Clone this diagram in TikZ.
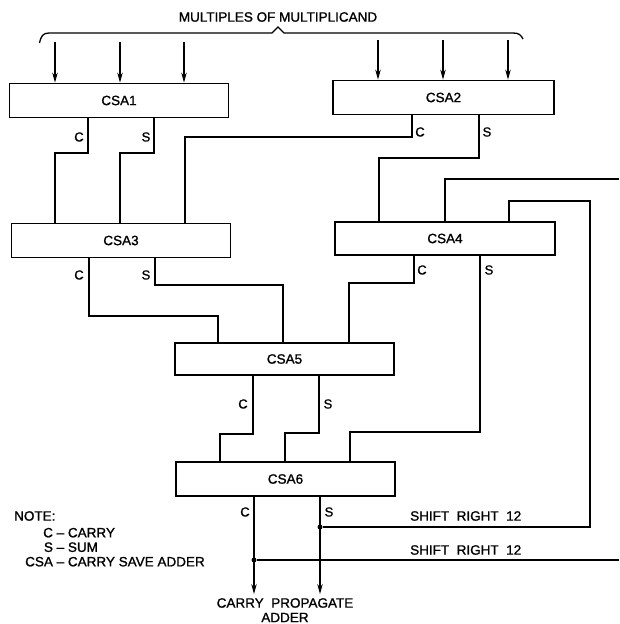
\documentclass[tikz,border=0pt]{standalone}
\usepackage{fontspec}
\setmainfont{Liberation Sans}[FakeBold=1.2]
\usetikzlibrary{arrows.meta}
\begin{document}
\begin{tikzpicture}[x=1pt,y=-1pt,
  csabox/.style={draw,line width=1.8pt,minimum width=219pt,minimum height=34pt,inner sep=0pt,font=\fontsize{13.5}{15}\selectfont},
  wire/.style={line width=1.2pt},
  inarrow/.style={line width=1.2pt,-{Stealth[length=10pt,width=5.5pt]}},
  lbl/.style={font=\fontsize{13.5}{14.5}\selectfont,inner sep=0pt},
  pinlbl/.style={font=\fontsize{13}{14}\selectfont,inner sep=0pt},
  dotnode/.style={circle,fill,inner sep=0pt,minimum size=5pt}]
\useasboundingbox (0,0) rectangle (619,624);

% boxes
\node[csabox] (csa1) at (119,100.5) {CSA1};
\node[csabox,minimum width=221pt] (csa2) at (443.5,97.5) {CSA2};
\node[csabox] (csa3) at (121,240.5) {CSA3};
\node[csabox,minimum width=220pt,minimum height=33pt] (csa4) at (445,238.5) {CSA4};
\node[csabox,minimum height=32pt] (csa5) at (284.5,359) {CSA5};
\node[csabox] (csa6) at (285.5,479) {CSA6};

% title and brace
\node[lbl] (title) at (278,17) {MULTIPLES OF MULTIPLICAND};
\draw[line width=1.3pt] (39.5,43) .. controls (41,36) and (43,33) .. (49,33) -- (272,33) -- (278,27) -- (284,33) -- (513,33) .. controls (519,33) and (521,35) .. (523,39);

% input arrows
\coordinate (i1a) at (55,42);
\coordinate (i1b) at (120,42);
\coordinate (i1c) at (184,42);
\coordinate (i2a) at (378,40);
\coordinate (i2b) at (443,40);
\coordinate (i2c) at (508,40);
\foreach \c/\b in {i1a/csa1,i1b/csa1,i1c/csa1,i2a/csa2,i2b/csa2,i2c/csa2}
  \draw[inarrow] (\c) -- (\b.north -| \c);

% CSA1 outputs
\draw[wire] (csa1.south -| 88,0) |- (55,153) -- (csa3.north -| 55,0);
\draw[wire] (csa1.south -| 154,0) |- (120,153) -- (csa3.north -| 120,0);
\node[pinlbl] (l1c) at (79,137) {C};
\node[pinlbl] (l1s) at (146,137) {S};

% CSA2 outputs
\draw[wire] (csa2.south -| 412,0) |- (185,137) -- (csa3.north -| 185,0);
\draw[wire] (csa2.south -| 479,0) |- (379,158) -- (csa4.north -| 379,0);
\node[pinlbl] (l2c) at (420,132) {C};
\node[pinlbl] (l2s) at (487,132) {S};

% feedback into CSA4
\coordinate (edge1) at (619,179);
\draw[wire] (edge1) -| (csa4.north -| 445,0);

% CSA3 outputs
\draw[wire] (csa3.south -| 89,0) |- (218,316) -- (csa5.north -| 218,0);
\draw[wire] (csa3.south -| 155,0) |- (283,285) -- (csa5.north -| 283,0);
\node[pinlbl] (l3c) at (79,275) {C};
\node[pinlbl] (l3s) at (146,275) {S};

% CSA4 outputs
\draw[wire] (csa4.south -| 414,0) |- (349,283) -- (csa5.north -| 349,0);
\draw[wire] (csa4.south -| 480,0) |- (350,432) -- (csa6.north -| 350,0);
\node[pinlbl] (l4c) at (422,270) {C};
\node[pinlbl] (l4s) at (489,270) {S};

% CSA5 outputs
\draw[wire] (csa5.south -| 253,0) |- (220,434) -- (csa6.north -| 220,0);
\draw[wire] (csa5.south -| 319,0) |- (285,433) -- (csa6.north -| 285,0);
\node[pinlbl] (l5c) at (243,404) {C};
\node[pinlbl] (l5s) at (328,404) {S};

% CSA6 outputs
\coordinate (outc) at (254,594);
\coordinate (outs) at (320,594);
\draw[inarrow] (csa6.south -| outc) -- (outc);
\draw[inarrow] (csa6.south -| outs) -- (outs);
\node[pinlbl] (l6c) at (245,512) {C};
\node[pinlbl] (l6s) at (329,512) {S};

\node[dotnode] (sdot) at (320,527) {};
\node[dotnode] (cdot) at (254,560) {};
\draw[wire] (sdot) -| (590,201) -| (csa4.north -| 509,0);
\coordinate (edge2) at (619,560);
\draw[wire] (cdot) -- (edge2);

\node[lbl,anchor=west] (sh1) at (410,516) {SHIFT\ \ RIGHT\ \ 12};
\node[lbl,anchor=west] (sh2) at (410,550) {SHIFT\ \ RIGHT\ \ 12};

\node[lbl,align=center,anchor=north] (cpa) at (285,598) {CARRY\ \ PROPAGATE\\ADDER};

% note
\node[lbl,anchor=west] (note) at (14,516) {NOTE:};
\node[lbl,anchor=north west] (legend) at (25,527) {\begin{tabular}{@{}r@{\ --\ }l@{}}C&CARRY\\S&SUM\\CSA&CARRY SAVE ADDER\end{tabular}};
\end{tikzpicture}
\end{document}
